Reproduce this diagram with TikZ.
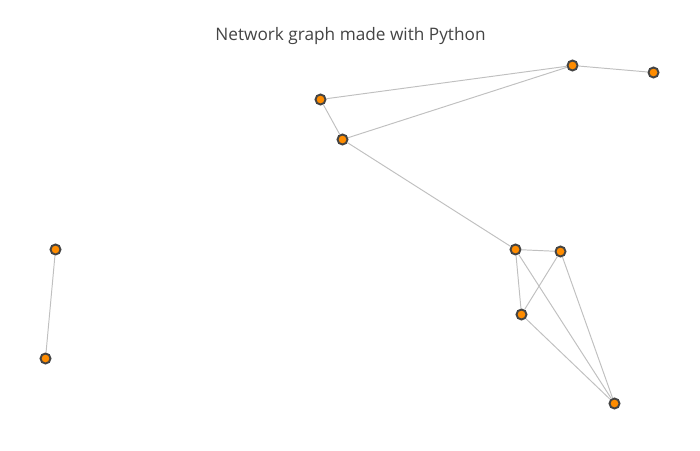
\documentclass[tikz,border=0pt]{standalone}
\usepackage{fontspec}
\setmainfont{Open Sans}
\definecolor{nodefill}{HTML}{FF8C00}
\definecolor{nodeline}{HTML}{444444}
\definecolor{edgecol}{HTML}{C0C0C0}
\definecolor{titlecol}{HTML}{444444}
\begin{document}
\begin{tikzpicture}[x=0.02cm,y=-0.02cm,
  vert/.style={circle,fill=nodefill,draw=nodeline,line width=1.1pt,inner sep=0pt,minimum size=0.2cm},
  edge/.style={draw=edgecol,line width=0.55pt}]
\useasboundingbox (0,0) rectangle (700,450);
\node[text=titlecol,font=\fontsize{9.8pt}{11pt}\selectfont] (title) at (350.5,36) {Network graph made with Python};
\node[vert] (A) at (572.5,65.5) {};
\node[vert] (B) at (653.5,72.5) {};
\node[vert] (C) at (320.5,99.5) {};
\node[vert] (D) at (342.5,139.5) {};
\node[vert] (E) at (515.5,249.5) {};
\node[vert] (F) at (560.5,251.5) {};
\node[vert] (G) at (521.5,314.5) {};
\node[vert] (H) at (614.5,403.5) {};
\node[vert] (I) at (55.5,249.5) {};
\node[vert] (J) at (45.5,358.5) {};
\draw[edge] (C) -- (A);
\draw[edge] (D) -- (A);
\draw[edge] (A) -- (B);
\draw[edge] (C) -- (D);
\draw[edge] (D) -- (E);
\draw[edge] (E) -- (F);
\draw[edge] (E) -- (G);
\draw[edge] (E) -- (H);
\draw[edge] (F) -- (G);
\draw[edge] (F) -- (H);
\draw[edge] (G) -- (H);
\draw[edge] (I) -- (J);
\end{tikzpicture}
\end{document}
